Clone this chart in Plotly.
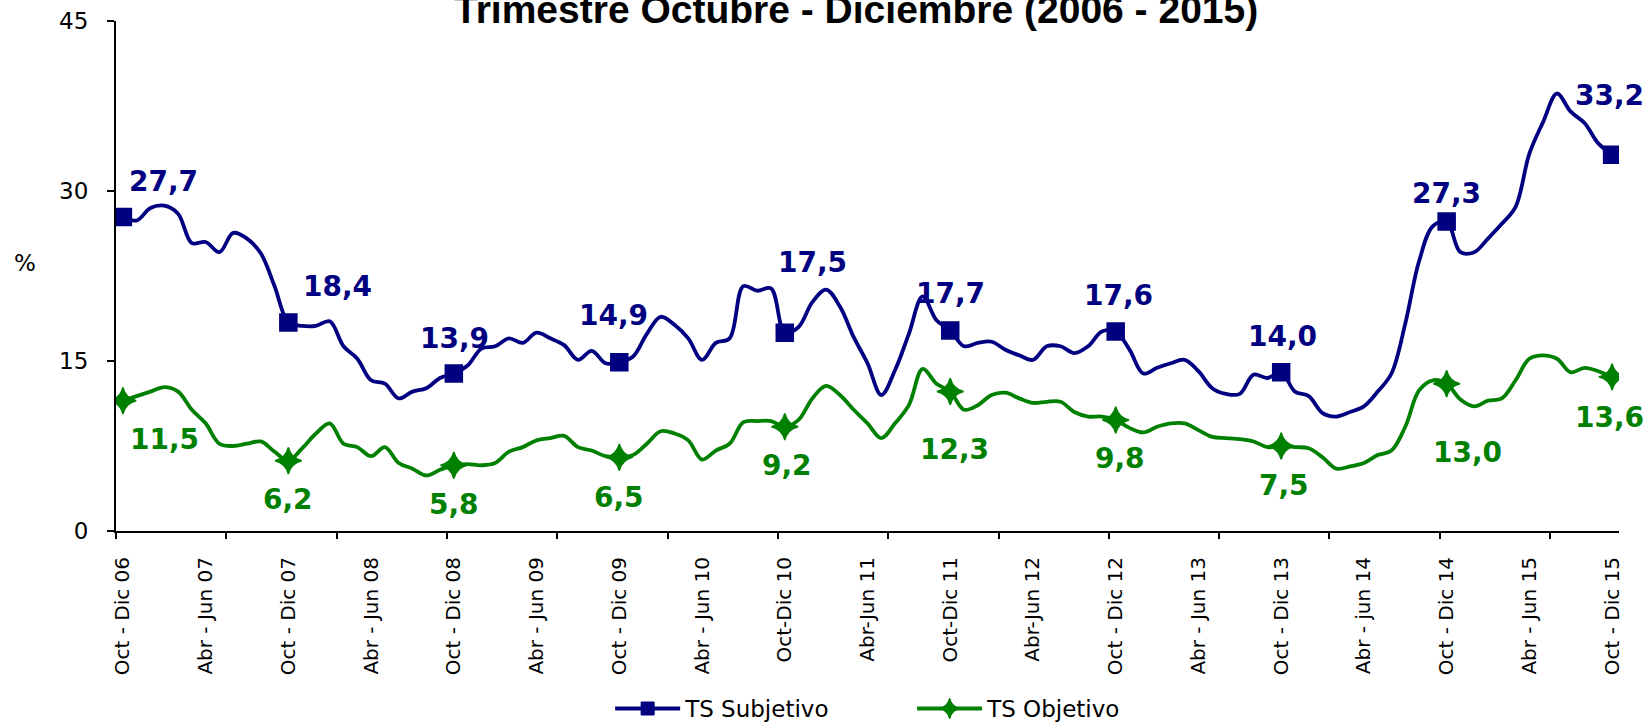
import plotly.graph_objects as go

# ---------------- data ----------------
tick_labels = ["Oct - Dic 06", "Abr - Jun 07", "Oct - Dic 07", "Abr - Jun 08", "Oct - Dic 08",
               "Abr - Jun 09", "Oct - Dic 09", "Abr - Jun 10", "Oct-Dic 10", "Abr-Jun 11",
               "Oct-Dic 11", "Abr-Jun 12", "Oct - Dic 12", "Abr - Jun 13", "Oct - Dic 13",
               "Abr - jun 14", "Oct - Dic 14", "Abr - Jun 15", "Oct - Dic 15"]

ts_subjetivo = [27.7, 27.4, 28.5, 28.7, 28.0, 25.4, 25.5, 24.6, 26.3, 25.8, 24.5, 21.6,
                18.4, 18.1, 18.1, 18.5, 16.3, 15.2, 13.3, 13.0, 11.7, 12.3, 12.6, 13.5,
                13.9, 14.6, 16.1, 16.3, 17.0, 16.6, 17.5, 17.0, 16.4, 15.1, 15.9, 14.8,
                14.9, 15.4, 17.4, 18.9, 18.2, 17.0, 15.1, 16.6, 17.0, 21.6, 21.2, 21.4,
                17.5, 18.0, 20.2, 21.3, 19.8, 17.1, 14.8, 12.0, 14.2, 17.4, 20.7, 18.6,
                17.7, 16.3, 16.6, 16.7, 16.0, 15.5, 15.1, 16.3, 16.3, 15.7, 16.3, 17.6,
                17.6, 16.0, 13.9, 14.4, 14.8, 15.1, 14.1, 12.6, 12.1, 12.1, 13.8, 13.5,
                14.0, 12.3, 11.9, 10.4, 10.1, 10.5, 11.0, 12.3, 13.9, 18.3, 23.8, 26.9,
                27.3, 24.6, 24.6, 25.8, 27.1, 28.6, 33.3, 36.1, 38.6, 37.0, 36.0, 34.2,
                33.2]

ts_objetivo = [11.5, 11.9, 12.3, 12.7, 12.3, 10.7, 9.5, 7.7, 7.5, 7.7, 7.9, 7.0,
               6.2, 7.3, 8.6, 9.5, 7.7, 7.4, 6.6, 7.4, 6.0, 5.5, 4.9, 5.4,
               5.8, 5.9, 5.8, 6.0, 7.0, 7.4, 8.0, 8.2, 8.4, 7.4, 7.1, 6.6,
               6.5, 6.7, 7.7, 8.8, 8.6, 8.0, 6.3, 7.1, 7.7, 9.6, 9.7, 9.7,
               9.2, 9.8, 11.7, 12.8, 12.0, 10.7, 9.5, 8.2, 9.5, 11.1, 14.3, 13.0,
               12.3, 10.7, 11.1, 12.0, 12.2, 11.7, 11.3, 11.4, 11.4, 10.5, 10.1, 10.1,
               9.8, 9.1, 8.7, 9.2, 9.5, 9.5, 8.9, 8.3, 8.2, 8.1, 7.9, 7.4,
               7.5, 7.4, 7.3, 6.5, 5.5, 5.7, 6.0, 6.7, 7.1, 9.2, 12.4, 13.3,
               13.0, 11.6, 11.0, 11.5, 11.7, 13.3, 15.2, 15.5, 15.2, 14.0, 14.4, 14.1,
               13.6]

y_ticks = [0, 15, 30, 45]

# ---------------- styling ----------------
BLUE = "#000080"
GREEN = "#008000"
n = len(ts_subjetivo)
idx = list(range(n))
label_idx = list(range(0, n, 6))
mark_idx = list(range(0, n, 12))
minor_tick_pos = [k - 0.5 for k in range(0, n + 1, 8)]

# label offsets in px (style)
blue_off = [(41, 36), (49, 36), (1, 35), (-6, 47), (28, 70), (0, 37), (3, 36), (1, 36), (0, 28), (-3, 59)]
green_off = [(42, -39), (0, -39), (0, -39), (0, -40), (2, -39), (4, -58), (4, -39), (3, -39), (21, -69), (-3, -41)]

fig = go.Figure()

for vals, col, sym, size, name in [
    (ts_subjetivo, BLUE, "square", 17, "TS Subjetivo"),
    (ts_objetivo, GREEN, "star-diamond", 19, "TS Objetivo"),
]:
    fig.add_trace(go.Scatter(x=idx, y=vals, mode="lines",
                             line=dict(color=col, width=3.8, shape="spline", smoothing=1.0),
                             showlegend=False, hoverinfo="skip"))
    fig.add_trace(go.Scatter(x=mark_idx, y=[vals[i] for i in mark_idx], mode="markers",
                             marker=dict(symbol=sym, size=size, color=col,
                                         line=dict(color=col, width=1.5)),
                             showlegend=False, hoverinfo="skip"))
    fig.add_trace(go.Scatter(x=[None], y=[None], mode="lines+markers", name=name,
                             line=dict(color=col, width=3.8),
                             marker=dict(symbol=sym, size=13 if sym == "square" else 15, color=col,
                                         line=dict(color=col, width=1))))

# invisible trace for secondary x axis (tick marks)
fig.add_trace(go.Scatter(x=[None], y=[None], xaxis="x2", showlegend=False, hoverinfo="skip"))

annotations = []
for k, i in enumerate(mark_idx):
    v = ts_subjetivo[i]
    dx, dy = blue_off[k]
    annotations.append(dict(x=i, y=v, xref="x", yref="y", text=f"{v:.1f}".replace(".", ","),
                            showarrow=False, xshift=dx, yshift=dy,
                            font=dict(family="DejaVu Sans", size=28, color=BLUE, weight="bold")))
    v = ts_objetivo[i]
    dx, dy = green_off[k]
    annotations.append(dict(x=i, y=v, xref="x", yref="y", text=f"{v:.1f}".replace(".", ","),
                            showarrow=False, xshift=dx, yshift=dy,
                            font=dict(family="DejaVu Sans", size=28, color=GREEN, weight="bold")))

annotations.append(dict(x=0.4926, y=1.068, xref="paper", yref="paper", xanchor="center", yanchor="top",
                        text="Trimestre Octubre - Diciembre (2006 - 2015)", showarrow=False,
                        font=dict(family="Liberation Sans, Arial", size=39, color="black", weight="bold")))
annotations.append(dict(x=-0.0605, y=0.5255, xref="paper", yref="paper", xanchor="center", yanchor="middle",
                        text="%", showarrow=False,
                        font=dict(family="DejaVu Sans", size=23, color="black")))

fig.update_layout(
    width=1649, height=723,
    margin=dict(l=116, r=30, t=21, b=192, pad=0, autoexpand=False),
    paper_bgcolor="white", plot_bgcolor="white",
    showlegend=True,
    legend=dict(orientation="h", xref="container", yref="container",
                x=0.3700, xanchor="left", y=0.0200, yanchor="middle",
                font=dict(family="DejaVu Sans", size=23, color="black"),
                itemwidth=65, entrywidth=222, entrywidthmode="pixels",
                tracegroupgap=0, bgcolor="rgba(0,0,0,0)"),
    annotations=annotations,
    xaxis=dict(range=[-0.5, n - 0.5], showgrid=False, zeroline=False, automargin=False,
               showline=True, linecolor="black", linewidth=2,
               tickmode="array", tickvals=label_idx, ticktext=tick_labels,
               ticks="", tickangle=-90, ticklabelstandoff=16,
               tickfont=dict(family="DejaVu Sans", size=20, color="black")),
    xaxis2=dict(range=[-0.5, n - 0.5], overlaying="x", anchor="y", side="bottom", automargin=False,
                showgrid=False, zeroline=False, showline=False, showticklabels=False,
                tickmode="array", tickvals=minor_tick_pos, ticks="outside", ticklen=7,
                tickwidth=2, tickcolor="black"),
    yaxis=dict(range=[0, 45], showgrid=False, zeroline=False, automargin=False,
               showline=True, linecolor="black", linewidth=2,
               tickmode="array", tickvals=y_ticks, ticks="outside", ticklen=7, tickwidth=2,
               tickcolor="black", ticklabelstandoff=14,
               tickfont=dict(family="DejaVu Sans", size=23, color="black")),
)

fig.write_html("out.html", config={"displayModeBar": False},
               post_script="document.body.style.margin='0';document.body.style.overflow='hidden';")
